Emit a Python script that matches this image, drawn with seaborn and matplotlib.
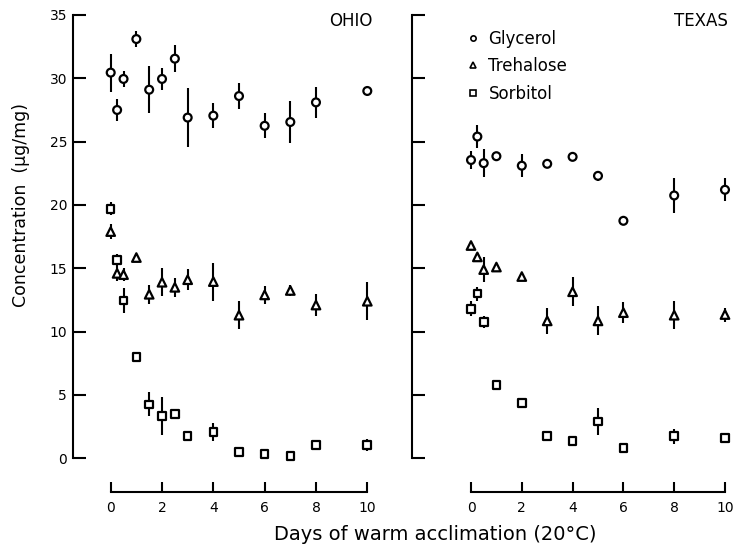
import numpy as np
import pandas as pd
import matplotlib
matplotlib.use("Agg")
import matplotlib.pyplot as plt
import seaborn as sns
from matplotlib.lines import Line2D

# ---------------- data ----------------
compounds = ["Glycerol", "Trehalose", "Sorbitol"]
panels = ["OHIO", "TEXAS"]

ohio_days = [0, 0.25, 0.5, 1, 1.5, 2, 2.5, 3, 4, 5, 6, 7, 8, 10]
ohio_glycerol = [30.45, 27.5, 29.95, 33.1, 29.1, 29.95, 31.55, 26.9, 27.05, 28.6, 26.25, 26.55, 28.1, 29.0]
ohio_glycerol_err = [1.5, 0.9, 0.6, 0.65, 1.85, 0.85, 1.05, 2.35, 1.0, 1.0, 1.0, 1.65, 1.2, 0.0]
ohio_trehalose = [17.9, 14.6, 14.5, 15.85, 12.95, 13.9, 13.5, 14.1, 13.95, 11.3, 12.9, 13.25, 12.1, 12.4]
ohio_trehalose_err = [0.6, 0.6, 0.5, 0.0, 0.75, 1.1, 0.75, 0.85, 1.5, 1.1, 0.7, 0.4, 0.85, 1.5]
ohio_sorbitol = [19.7, 15.65, 12.45, 8.0, 4.25, 3.35, 3.5, 1.75, 2.1, 0.5, 0.35, 0.2, 1.05, 1.05]
ohio_sorbitol_err = [0.5, 0.5, 1.0, 0.0, 0.95, 1.5, 0.0, 0.0, 0.7, 0.0, 0.0, 0.0, 0.0, 0.5]

texas_days = [0, 0.25, 0.5, 1, 2, 3, 4, 5, 6, 8, 10]
texas_glycerol = [23.55, 25.4, 23.3, 23.85, 23.1, 23.25, 23.8, 22.3, 18.75, 20.75, 21.2]
texas_glycerol_err = [0.7, 0.9, 1.1, 0.0, 0.9, 0.0, 0.0, 0.4, 0.0, 1.4, 0.9]
texas_trehalose = [16.8, 15.9, 14.9, 15.1, 14.35, 10.85, 13.15, 10.85, 11.5, 11.3, 11.35]
texas_trehalose_err = [0.3, 0.3, 1.0, 0.0, 0.0, 1.0, 1.15, 1.15, 0.85, 1.1, 0.55]
texas_sorbitol = [11.8, 13.0, 10.75, 5.8, 4.35, 1.75, 1.35, 2.9, 0.8, 1.75, 1.6]
texas_sorbitol_err = [0.6, 0.55, 0.5, 0.2, 0.0, 0.0, 0.0, 1.1, 0.3, 0.6, 0.0]

x_ticks = [0, 2, 4, 6, 8, 10]
y_ticks = [0, 5, 10, 15, 20, 25, 30, 35]
x_label = "Days of warm acclimation (20°C)"
y_label = "Concentration  (µg/mg)"


def long_table(site, days, series):
    rows = []
    for comp, (vals, errs) in series.items():
        for d, v, e in zip(days, vals, errs):
            rows.append({"site": site, "day": d, "value": v, "err": e, "compound": comp})
    return pd.DataFrame(rows)


df_ohio = long_table("OHIO", ohio_days, {
    "Glycerol": (ohio_glycerol, ohio_glycerol_err),
    "Trehalose": (ohio_trehalose, ohio_trehalose_err),
    "Sorbitol": (ohio_sorbitol, ohio_sorbitol_err),
})
df_texas = long_table("TEXAS", texas_days, {
    "Glycerol": (texas_glycerol, texas_glycerol_err),
    "Trehalose": (texas_trehalose, texas_trehalose_err),
    "Sorbitol": (texas_sorbitol, texas_sorbitol_err),
})

# ---------------- styling ----------------
sns.set_style("ticks")
plt.rcParams["font.family"] = ["DejaVu Sans"]
plt.rcParams["text.color"] = "black"
plt.rcParams["axes.edgecolor"] = "black"
plt.rcParams["xtick.color"] = "black"
plt.rcParams["ytick.color"] = "black"

W, H = 734, 546
fig = plt.figure(figsize=(W / 100, H / 100), dpi=100)
fig.patch.set_facecolor("white")


def axes_px(l, t, r, b):
    return fig.add_axes([l / W, 1 - b / H, (r - l) / W, (b - t) / H])


axL = axes_px(73, 10, 380, 492)
axR = axes_px(412, 10, 732, 492)

marker_map = {"Glycerol": "o", "Trehalose": "^", "Sorbitol": "s"}
size_map = {"Glycerol": 32, "Trehalose": 38, "Sorbitol": 30}

for ax, df, (x0, x1) in [(axL, df_ohio, (-1.469, 10.495)), (axR, df_texas, (-2.323, 10.276))]:
    ax.errorbar(df["day"], df["value"], yerr=df["err"], fmt="none",
                ecolor="black", elinewidth=1.5, capsize=0, zorder=1)
    sns.scatterplot(data=df, x="day", y="value", style="compound", size="compound",
                    markers=marker_map, sizes=size_map, color="white",
                    edgecolor="black", linewidth=1.6, legend=False, zorder=3, ax=ax)
    ax.set_xlim(x0, x1)
    ax.set_ylim(-2.661, 35.394)
    ax.set_xticks(x_ticks)
    ax.set_yticks(y_ticks)
    ax.set_xlabel("")
    ax.set_ylabel("")
    sns.despine(ax=ax)
    ax.spines["left"].set_bounds(0, 35)
    ax.spines["bottom"].set_bounds(0, 10)
    for s in ("left", "bottom"):
        ax.spines[s].set_linewidth(1.5)
    ax.tick_params(axis="y", direction="in", length=9.4, width=1.5, pad=4.3, labelsize=10)
    ax.tick_params(axis="x", direction="in", length=7.2, width=1.5, pad=6.4, labelsize=10)
    ax.set_facecolor("white")

axR.tick_params(axis="y", labelleft=False)

# legend
handles = [
    Line2D([], [], ls="none", marker="o", mfc="white", mec="black", mew=1.2, ms=3.8, label="Glycerol"),
    Line2D([], [], ls="none", marker="^", mfc="white", mec="black", mew=1.2, ms=4.2, label="Trehalose"),
    Line2D([], [], ls="none", marker="s", mfc="white", mec="black", mew=1.2, ms=3.8, label="Sorbitol"),
]
axR.legend(handles=handles, loc="upper left",
           bbox_to_anchor=(464.4 / W, 1 - 29.6 / H), bbox_transform=fig.transFigure,
           frameon=False, fontsize=12, handlelength=1.0, handletextpad=0.44,
           labelspacing=0.58, borderpad=0, borderaxespad=0)

# panel titles
fig.text(372 / W, 1 - 21.5 / H, panels[0], ha="right", va="center", fontsize=12)
fig.text(728 / W, 1 - 21.5 / H, panels[1], ha="right", va="center", fontsize=12)

# axis labels
fig.text(21.5 / W, 1 - 205 / H, y_label, rotation=90, ha="center", va="center", fontsize=12.5)
fig.text(435 / W, 1 - 534 / H, x_label, ha="center", va="center", fontsize=14)

fig.savefig("out.png", dpi=100, facecolor="white")
